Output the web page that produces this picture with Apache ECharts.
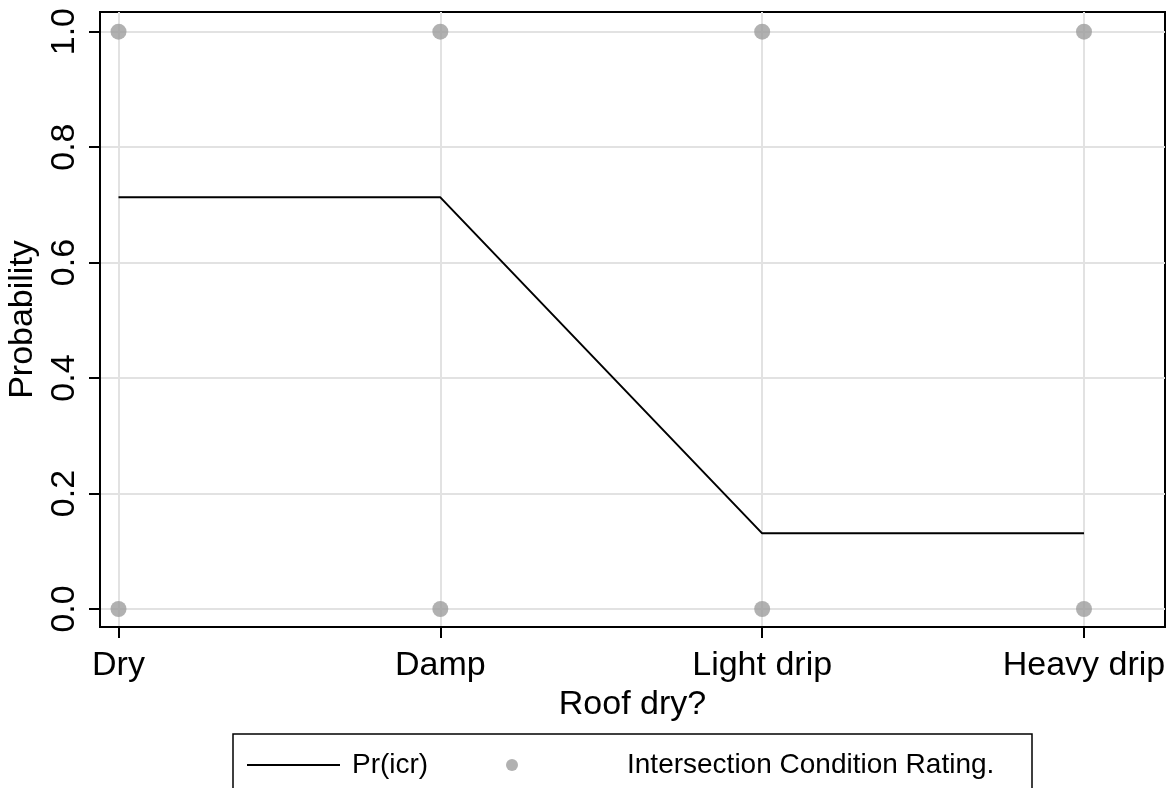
<!DOCTYPE html>
<html>
<head>
<meta charset="utf-8">
<script src="https://cdn.jsdelivr.net/npm/echarts@6/dist/echarts.min.js"></script>
<style>
  html, body { margin: 0; padding: 0; background: #fff; }
  #chart { width: 1174px; height: 788px; }
</style>
</head>
<body>
<div id="chart"></div>
<script>
// Roof condition categories (x positions 1..4)
const categories = ['Dry', 'Damp', 'Light drip', 'Heavy drip'];
const catPositions = [1, 2, 3, 4];
// Predicted probability Pr(icr) per category
const predicted = [0.713, 0.713, 0.131, 0.131];
// Observed outcomes (0/1) per category
const observedX = [1, 1, 2, 2, 3, 3, 4, 4];
const observedY = [0, 1, 0, 1, 0, 1, 0, 1];
// Y tick values
const yTicks = [0, 0.2, 0.4, 0.6, 0.8, 1.0];

const FONT = 'Liberation Sans, Arial, Helvetica, sans-serif';

const chart = echarts.init(document.getElementById('chart'), null, { renderer: 'canvas' });

const lineData = catPositions.map((x, i) => [x, predicted[i]]);
const scatterData = observedX.map((x, i) => [x, observedY[i]]);

chart.setOption({
  animation: false,
  backgroundColor: '#fff',
  grid: {
    left: 100, right: 9, top: 12, bottom: 161,
    outerBoundsMode: 'none',
    containLabel: false,
    show: true, borderColor: '#000', borderWidth: 2, backgroundColor: 'transparent'
  },
  xAxis: {
    type: 'value',
    min: 0.9425, max: 4.2517,
    name: 'Roof dry?',
    nameLocation: 'middle',
    nameGap: 56,
    nameTextStyle: { fontFamily: FONT, fontSize: 34, color: '#000' },
    axisLine: { show: true, onZero: false, lineStyle: { color: '#000', width: 2 } },
    axisTick: { show: true, length: 11, customValues: catPositions, lineStyle: { color: '#000', width: 2 } },
    axisLabel: {
      customValues: catPositions,
      formatter: v => categories[Math.round(v) - 1] || '',
      fontFamily: FONT, fontSize: 34, color: '#000', margin: 22
    },
    splitLine: { show: true, lineStyle: { color: '#e2e2e2', width: 2 } }
  },
  yAxis: {
    type: 'value',
    min: -0.0312, max: 1.034,
    name: 'Probability',
    nameLocation: 'middle',
    nameRotate: 90,
    nameGap: 57,
    nameTextStyle: { fontFamily: FONT, fontSize: 34, color: '#000' },
    axisLine: { show: true, onZero: false, lineStyle: { color: '#000', width: 2 } },
    axisTick: { show: true, length: 11, customValues: yTicks, lineStyle: { color: '#000', width: 2 } },
    axisLabel: {
      customValues: yTicks,
      rotate: 90,
      formatter: v => v.toFixed(1),
      fontFamily: FONT, fontSize: 34, color: '#000', margin: 18
    },
    splitLine: { show: true, lineStyle: { color: '#e2e2e2', width: 2 } }
  },
  legend: [
    {
      data: [{ name: 'Pr(icr)', icon: 'rect' }],
      left: 242, top: 746,
      itemWidth: 93, itemHeight: 2,
      textStyle: { fontFamily: FONT, fontSize: 28, color: '#000', padding: [0, 0, 0, 7] },
      selectedMode: false
    },
    {
      data: [{ name: 'Intersection Condition Rating.', icon: 'circle' }],
      left: 501, top: 746,
      itemWidth: 12, itemHeight: 12,
      textStyle: { fontFamily: FONT, fontSize: 28, color: '#000', padding: [0, 0, 0, 104] },
      selectedMode: false
    }
  ],
  graphic: [
    {
      type: 'rect',
      shape: { x: 233, y: 734, width: 799, height: 80 },
      style: { fill: 'none', stroke: '#000', lineWidth: 1.5 },
      z: 10
    }
  ],
  series: [
    {
      name: 'Intersection Condition Rating.',
      type: 'scatter',
      data: scatterData,
      symbol: 'circle',
      symbolSize: 16,
      itemStyle: { color: '#9e9e9e' },
      z: 2
    },
    {
      name: 'Pr(icr)',
      type: 'line',
      data: lineData,
      symbol: 'none',
      lineStyle: { color: '#000', width: 2 },
      itemStyle: { color: '#000' },
      z: 3
    }
  ]
});
</script>
</body>
</html>
